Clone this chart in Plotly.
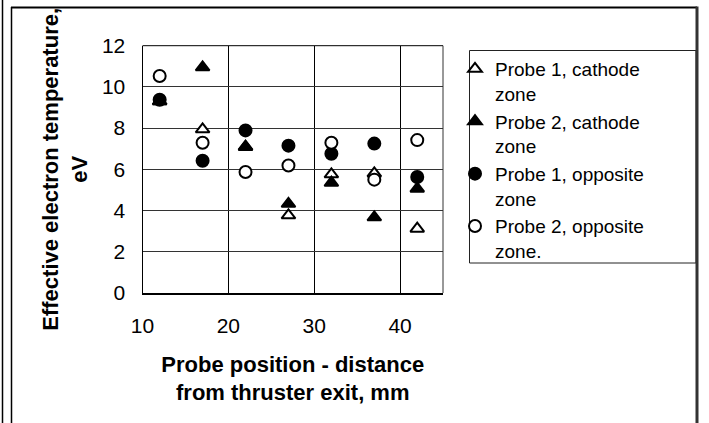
import plotly.graph_objects as go

W, H = 709, 423

positions = [12, 17, 22, 27, 32, 37, 42]
probe1_cathode = [9.3, 7.94, 7.1, 3.77, 5.76, 5.8, 3.12]
probe2_cathode = [9.3, 10.95, 7.08, 4.33, 5.35, 3.67, 5.06]
probe1_opposite = [9.38, 6.42, 7.89, 7.15, 6.76, 7.25, 5.63]
probe2_opposite = [10.53, 7.29, 5.87, 6.19, 7.29, 5.5, 7.42]

names = ["Probe 1, cathode<br>zone", "Probe 2, cathode<br>zone",
         "Probe 1, opposite<br>zone", "Probe 2, opposite<br>zone."]

FONT = "Arial, Liberation Sans, sans-serif"

def px(x):
    return x / W

def py(y):
    return 1 - y / H

fig = go.Figure()
series = [
    (probe1_cathode, "triangle-up", "white"),
    (probe2_cathode, "triangle-up", "black"),
    (probe1_opposite, "circle", "black"),
    (probe2_opposite, "circle", "white"),
]
for (vals, sym, fill), nm in zip(series, names):
    fig.add_trace(go.Scatter(
        x=positions, y=vals, mode="markers", name=nm,
        marker=dict(symbol=sym, size=12, color=fill,
                    line=dict(color="black", width=2)),
        cliponaxis=False,
    ))

x0, x1 = 142.5, 443
y0, y1 = 45.7, 293

fig.update_layout(
    width=W, height=H,
    margin=dict(l=0, r=0, t=0, b=0, autoexpand=False),
    paper_bgcolor="white", plot_bgcolor="white",
    font=dict(family=FONT, color="black", size=20),
    showlegend=True,
    legend=dict(x=px(455), y=py(50), xanchor="left", yanchor="top",
                bgcolor="rgba(0,0,0,0)", borderwidth=0, valign="top",
                font=dict(family=FONT, size=19, color="black"),
                tracegroupgap=0, itemwidth=30),
    xaxis=dict(domain=[px(x0), px(x1)], range=[10, 45], automargin=False,
               tickvals=[10, 20, 30, 40], ticktext=["10", "20", "30", "40"],
               ticks="outside", ticklen=13, tickcolor="rgba(0,0,0,0)",
               showgrid=True, gridcolor="black", gridwidth=1,
               showline=True, linecolor="black", linewidth=2, mirror=False,
               zeroline=False,
               tickfont=dict(size=21),
               title=dict(text="<b>Probe position - distance<br>from thruster exit, mm</b>",
                          font=dict(size=22), standoff=20)),
    yaxis=dict(domain=[py(y1), py(y0)], range=[0, 12], automargin=False,
               tickvals=[0, 2, 4, 6, 8, 10, 12],
               ticks="outside", ticklen=12, tickcolor="rgba(0,0,0,0)",
               showgrid=True, gridcolor="#333", gridwidth=1,
               showline=True, linecolor="black", linewidth=1,
               zeroline=False,
               tickfont=dict(size=21),
               title=dict(text="<b>Effective electron temperature,<br>eV</b>",
                          font=dict(size=22), standoff=8)),
    shapes=[
        # plot area top and right borders
        dict(type="line", xref="x domain", yref="y domain", x0=0, x1=1, y0=1, y1=1,
             line=dict(color="black", width=1)),
        dict(type="line", xref="x domain", yref="y domain", x0=1, x1=1, y0=0, y1=1,
             line=dict(color="#333", width=1)),
        # legend box
        dict(type="rect", xref="paper", yref="paper",
             x0=px(469.5), x1=px(696), y0=py(263), y1=py(50.5),
             line=dict(color="#222", width=1), layer="below"),
        # outer frame lines
        dict(type="line", xref="paper", yref="paper", x0=px(2.5), x1=px(2.5), y0=0, y1=1,
             line=dict(color="black", width=1.5)),
        dict(type="line", xref="paper", yref="paper", x0=px(11.5), x1=px(11.5), y0=0, y1=py(7),
             line=dict(color="black", width=1.5)),
        dict(type="line", xref="paper", yref="paper", x0=px(11), x1=px(697), y0=py(7.5), y1=py(7.5),
             line=dict(color="black", width=2)),
        dict(type="line", xref="paper", yref="paper", x0=px(697), x1=px(697), y0=0, y1=py(6.5),
             line=dict(color="#333", width=3)),
    ],
)

fig.write_html("out.html")
